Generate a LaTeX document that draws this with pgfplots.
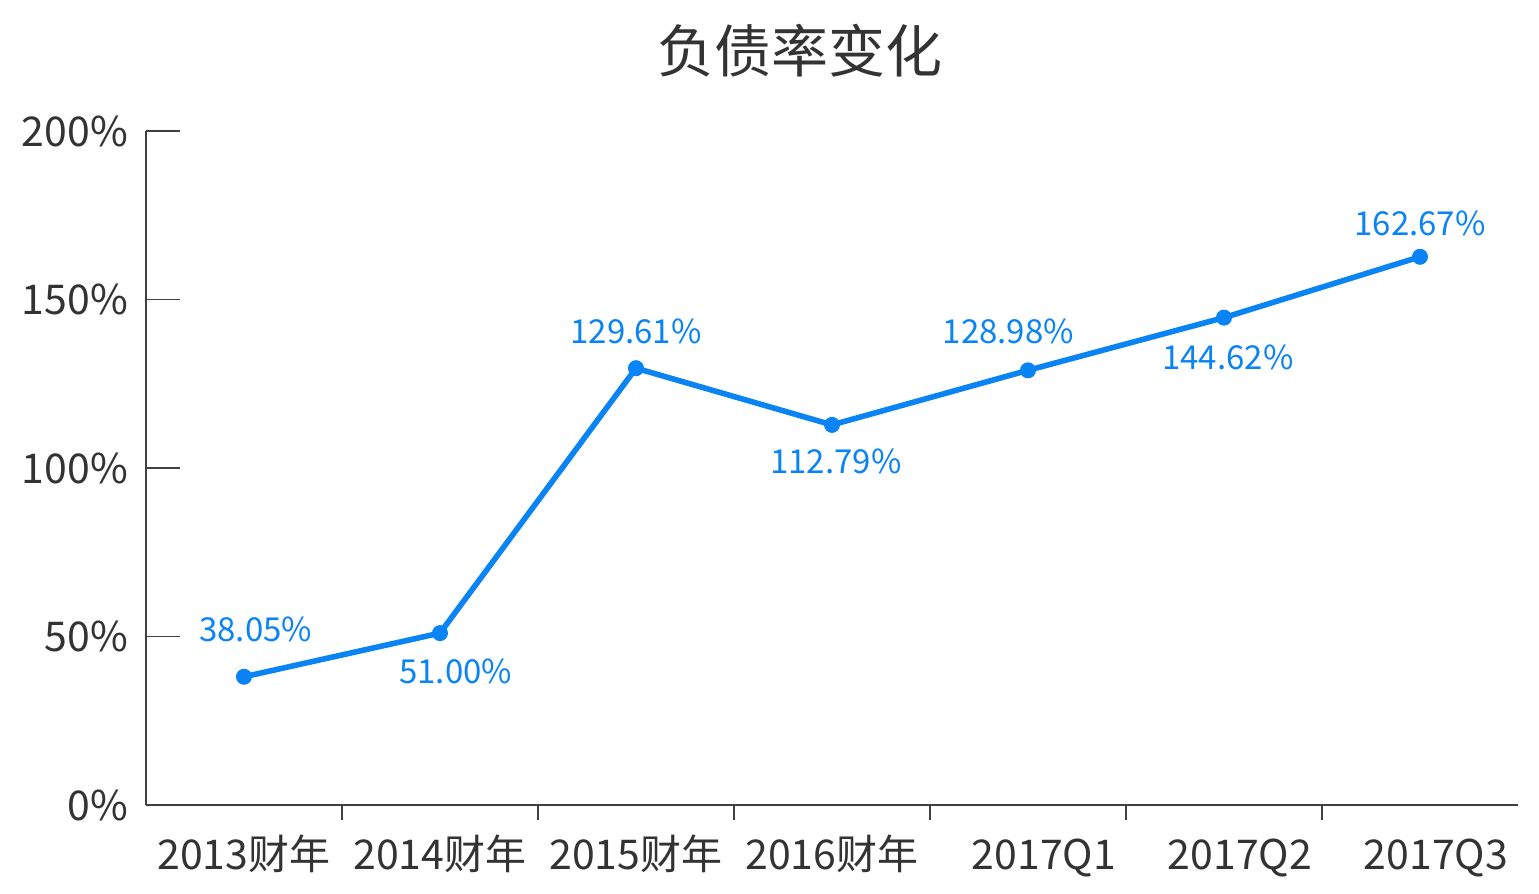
\documentclass[border=0pt]{standalone}
\usepackage{pgfplots}
\pgfplotsset{compat=1.18}
\usepackage{fontspec}
\setmainfont{Noto Sans CJK SC}
\definecolor{lineblue}{RGB}{10,132,245}
\definecolor{txtgray}{RGB}{51,51,51}
\definecolor{axgray}{RGB}{64,64,64}
\begin{document}
\begin{tikzpicture}
\useasboundingbox (-73pt,-44.5pt) rectangle (696.5pt,402.5pt);
\begin{axis}[
  at={(0,0)}, anchor=south west,
  scale only axis, width=686pt, height=337pt,
  xmin=-0.5, xmax=6.5, ymin=0, ymax=200,
  axis lines=left,
  axis line style={-, draw=axgray, line width=0.75pt},
  xtick={0,...,6},
  xticklabels={2013财年,2014财年,2015财年,2016财年,\hspace*{16pt}2017Q1,\hspace*{16pt}2017Q2,\hspace*{16pt}2017Q3},
  minor xtick={0.5,1.5,...,5.5},
  major x tick style={draw=none},
  minor x tick style={draw=axgray, line width=0.75pt},
  minor tick length=7.5pt,
  xtick align=outside,
  ytick={0,50,...,200},
  yticklabels={0\%,50\%,100\%,150\%,200\%},
  ytick align=inside,
  major tick length=17pt,
  y tick style={draw=axgray, line width=0.75pt},
  tick label style={font=\fontsize{20.5}{24}\selectfont, text=txtgray},
  xticklabel style={anchor=base, yshift=-15.5pt},
  yticklabel style={xshift=-5.5pt},
  clip=false,
]
\addplot[lineblue, line width=2.8pt, mark=*, mark size=3.6pt, mark options={fill=lineblue, draw=lineblue, line width=0.8pt}]
  coordinates {(0,38.05) (1,51.00) (2,129.61) (3,112.79) (4,128.98) (5,144.62) (6,162.67)};
\begin{scope}[every node/.style={font=\fontsize{16.5}{20}\selectfont, text=lineblue}]
\node[yshift=23.5pt] at (axis cs:0.06,38.05) {38.05\%};
\node[yshift=-19pt] at (axis cs:1.08,51.00) {51.00\%};
\node[yshift=18.5pt] at (axis cs:2,129.61) {129.61\%};
\node[yshift=-18.5pt] at (axis cs:3.02,112.79) {112.79\%};
\node[yshift=19.5pt] at (axis cs:3.9,128.98) {128.98\%};
\node[yshift=-20pt] at (axis cs:5.02,144.62) {144.62\%};
\node[yshift=16.5pt] at (axis cs:6,162.67) {162.67\%};
\end{scope}
\node[font=\fontsize{28.5}{34}\selectfont, text=txtgray] at (327pt,377pt) {负债率变化};
\end{axis}
\end{tikzpicture}
\end{document}
